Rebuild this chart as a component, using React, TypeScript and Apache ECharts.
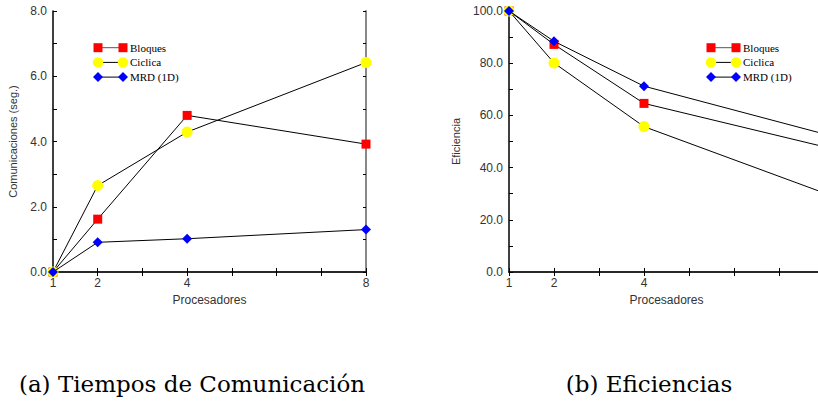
import React, { useEffect, useRef } from "react";
import * as echarts from "echarts";

const procesadores = [1, 2, 4, 8];
const seriesNames = ["Bloques", "Ciclica", "MRD (1D)"];
const seriesColors = ["#ff0000", "#ffff00", "#0000ff"];
const seriesSymbols = ["rect", "circle", "diamond"];
const seriesSizes = [9, 11, 10];

const comBloques = [0, 1.62, 4.8, 3.92];
const comCiclica = [0, 2.65, 4.29, 6.42];
const comMRD = [0, 0.91, 1.02, 1.3];

const efBloques = [100, 87.2, 64.6, 48.0];
const efCiclica = [100, 80.1, 55.7, 30.3];
const efMRD = [100, 88.4, 71.2, 52.9];

const xLabelTicksA = [1, 2, 4, 8];
const xLabelTicksB = [1, 2, 4];
const captionA = "(a) Tiempos de Comunicación";
const captionB = "(b) Eficiencias";
const yNameA = "Comunicaciones (seg.)";
const yNameB = "Eficiencia";
const xName = "Procesadores";

export default function App() {
  const ref = useRef<HTMLDivElement>(null);
  useEffect(() => {
    const chart = echarts.init(ref.current!, undefined, { renderer: "svg" });
    const sans = "Liberation Sans";
    const serif = "Liberation Serif";
    const labelColor = "#333";
    const axisBase = (gridIndex: number) => ({
      gridIndex,
      type: "value" as const,
      min: 1,
      max: 8,
      interval: 1,
      splitLine: { show: false },
    });
    const xAxes = [0, 1].flatMap((g) => [
      {
        ...axisBase(g),
        position: "bottom",
        name: xName,
        nameLocation: "middle",
        nameGap: 20,
        nameTextStyle: { fontFamily: sans, fontSize: 12, color: labelColor },
        axisLine: { show: true, lineStyle: { color: "#000", width: 1.5 } },
        axisTick: { show: true, inside: true, length: 4, lineStyle: { color: "#000" } },
        axisLabel: {
          show: true,
          margin: 5,
          fontFamily: sans,
          fontSize: 12,
          color: labelColor,
          formatter: (v: number) => ((g === 0 ? xLabelTicksA : xLabelTicksB).includes(v) ? String(v) : ""),
        },
      },
      {
        ...axisBase(g),
        position: "top",
        axisLine: { show: true, lineStyle: { color: "#222", width: 1.5 } },
        axisTick: { show: true, inside: true, length: 4, lineStyle: { color: "#000" } },
        axisLabel: { show: false },
      },
    ]);
    const yAxes = [
      {
        gridIndex: 0,
        type: "value",
        min: 0,
        max: 8,
        interval: 1,
        position: "left",
        name: yNameA,
        nameLocation: "middle",
        nameGap: 35,
        nameTextStyle: { fontFamily: sans, fontSize: 11, color: labelColor },
        splitLine: { show: false },
        axisLine: { show: true, lineStyle: { color: "#000", width: 1.5 } },
        axisTick: { show: true, inside: true, length: 4, lineStyle: { color: "#000" } },
        axisLabel: {
          margin: 6,
          fontFamily: sans,
          fontSize: 12,
          color: labelColor,
          formatter: (v: number) => (v % 2 === 0 ? v.toFixed(1) : ""),
        },
      },
      {
        gridIndex: 0,
        type: "value",
        min: 0,
        max: 8,
        interval: 1,
        position: "right",
        splitLine: { show: false },
        axisLine: { show: true, lineStyle: { color: "#888", width: 2 } },
        axisTick: { show: true, inside: true, length: 3, lineStyle: { color: "#000" } },
        axisLabel: { show: false },
      },
      {
        gridIndex: 1,
        type: "value",
        min: 0,
        max: 100,
        interval: 10,
        position: "left",
        name: yNameB,
        nameLocation: "middle",
        nameGap: 48,
        nameTextStyle: { fontFamily: sans, fontSize: 11, color: labelColor },
        splitLine: { show: false },
        axisLine: { show: true, lineStyle: { color: "#000", width: 1.5 } },
        axisTick: { show: true, inside: true, length: 4, lineStyle: { color: "#000" } },
        axisLabel: {
          margin: 6,
          fontFamily: sans,
          fontSize: 12,
          color: labelColor,
          formatter: (v: number) => (v % 20 === 0 ? v.toFixed(1) : ""),
        },
      },
      {
        gridIndex: 1,
        type: "value",
        min: 0,
        max: 100,
        interval: 10,
        position: "right",
        splitLine: { show: false },
        axisLine: { show: true, lineStyle: { color: "#888", width: 2 } },
        axisTick: { show: true, inside: true, length: 3, lineStyle: { color: "#000" } },
        axisLabel: { show: false },
      },
    ];

    const mk = (name: string, i: number, vals: number[], xi: number, yi: number) => ({
      type: "line",
      name,
      xAxisIndex: xi,
      yAxisIndex: yi,
      data: procesadores.map((p, k) => [p, vals[k]]),
      symbol: seriesSymbols[i],
      symbolSize: seriesSizes[i],
      showAllSymbol: true,
      lineStyle: { color: "#000", width: 1 },
      itemStyle: { color: seriesColors[i], borderWidth: 0 },
      z: 3 + i,
      clip: false,
    });

    const legendGraphic = (x1: number, x2: number, y0: number) =>
      seriesNames.flatMap((name, i) => {
        const y = y0 + i * 14.7;
        const sym = (cx: number) => {
          if (i === 0)
            return { type: "rect", shape: { x: cx - 4.5, y: y - 4.5, width: 9, height: 9 }, style: { fill: seriesColors[0] } };
          if (i === 1)
            return { type: "circle", shape: { cx, cy: y, r: 5.2 }, style: { fill: seriesColors[1] } };
          return {
            type: "polygon",
            shape: { points: [[cx, y - 5], [cx + 5, y], [cx, y + 5], [cx - 5, y]] },
            style: { fill: seriesColors[2] },
          };
        };
        return [
          { type: "line", shape: { x1, y1: y, x2, y2: y }, style: { stroke: i === 0 ? "#555" : "#000", lineWidth: 1 } },
          sym(x1),
          sym(x2),
          {
            type: "text",
            x: x2 + 7,
            y,
            style: { text: name, font: `11px "${serif}"`, fill: "#000", textVerticalAlign: "middle", textAlign: "left" },
          },
        ];
      });

    chart.setOption({
      animation: false,
      backgroundColor: "#fff",
      grid: [
        { left: 53, top: 11, width: 313, height: 261 },
        { left: 509, top: 11, width: 315, height: 261 },
      ],
      xAxis: xAxes,
      yAxis: yAxes,
      series: [
        mk(seriesNames[0], 0, comBloques, 0, 0),
        mk(seriesNames[1], 1, comCiclica, 0, 0),
        mk(seriesNames[2], 2, comMRD, 0, 0),
        mk(seriesNames[0], 0, efBloques, 2, 2),
        mk(seriesNames[1], 1, efCiclica, 2, 2),
        mk(seriesNames[2], 2, efMRD, 2, 2),
      ],
      graphic: [
        ...legendGraphic(98, 123, 47.7),
        ...legendGraphic(711, 736, 47.7),
        {
          type: "text",
          x: 192,
          y: 384,
          style: { text: captionA, font: `23px "DejaVu Serif"`, fill: "#000", textAlign: "center", textVerticalAlign: "middle" },
        },
        {
          type: "text",
          x: 649,
          y: 384,
          style: { text: captionB, font: `23px "DejaVu Serif"`, fill: "#000", textAlign: "center", textVerticalAlign: "middle" },
        },
      ],
    });
    return () => chart.dispose();
  }, []);
  return (
    <div style={{ position: "fixed", left: 0, top: 0, width: 818, height: 404, overflow: "hidden", background: "#fff" }}>
      <div ref={ref} style={{ position: "absolute", left: 0, top: 0, width: 840, height: 404 }} />
    </div>
  );
}
